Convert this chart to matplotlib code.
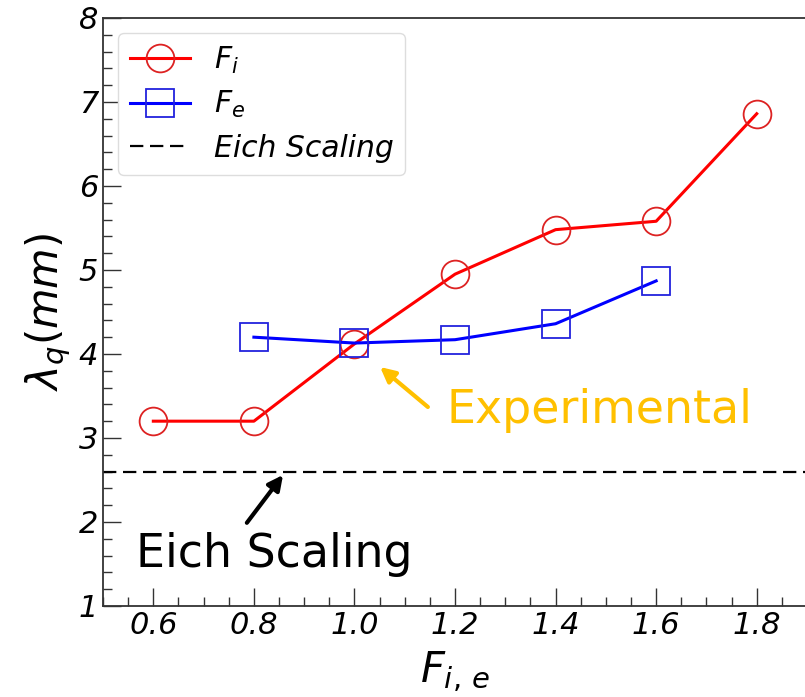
import matplotlib
matplotlib.use("Agg")
import matplotlib.pyplot as plt

x_i = [0.6, 0.8, 1.0, 1.2, 1.4, 1.6, 1.8]
lam_i = [3.2, 3.2, 4.12, 4.95, 5.48, 5.58, 6.86]
x_e = [0.8, 1.0, 1.2, 1.4, 1.6]
lam_e = [4.2, 4.13, 4.17, 4.36, 4.87]
eich = 2.6
xticks = [0.6, 0.8, 1.0, 1.2, 1.4, 1.6, 1.8]
yticks = [1, 2, 3, 4, 5, 6, 7, 8]

fig = plt.figure(figsize=(8.05, 6.97), dpi=100)
ax = fig.add_axes([0.128, 0.1306, 0.8745, 0.8436])

ax.plot(x_i, lam_i, color='red', lw=2.2, marker='o', ms=20, mfc='none',
        mec='#dd2222', mew=1.3, label='$F_i$')
ax.plot(x_e, lam_e, color='blue', lw=2.2, marker='s', ms=20, mfc='none',
        mec='#2222dd', mew=1.3, label='$F_e$')
ax.axhline(eich, color='black', lw=1.6, ls=(0, (6, 3)), label='Eich Scaling')

ax.set_xlim(0.5, 1.9)
ax.set_ylim(1, 8)
ax.set_xticks(xticks)
ax.set_xticklabels([f"{v:.1f}" for v in xticks])
ax.set_yticks(yticks)
ax.set_yticklabels([str(v) for v in yticks])
ax.xaxis.set_minor_locator(matplotlib.ticker.MultipleLocator(0.05))
ax.yaxis.set_minor_locator(matplotlib.ticker.MultipleLocator(0.2))
ax.tick_params(which='both', direction='in', top=False, right=False,
               labelsize=22, width=1.0, color='#333333')
ax.tick_params(which='major', length=13)
ax.tick_params(which='minor', length=6.5)
for lbl in ax.get_xticklabels() + ax.get_yticklabels():
    lbl.set_fontstyle('italic')
for s in ax.spines.values():
    s.set_linewidth(1.3)
    s.set_color('#333333')
ax.spines['right'].set_visible(False)

ax.set_ylabel(r'$\lambda_q(mm)$', fontsize=30, labelpad=4)
ax.set_xlabel(r'$F_{i,\,e}$', fontsize=30, labelpad=7)

leg = ax.legend(loc='upper left', prop=dict(size=21.5, style='italic'),
                handlelength=2.0, borderpad=0.4, labelspacing=0.45,
                bbox_to_anchor=(0.0, 1.0), framealpha=1)
leg.get_frame().set_edgecolor('#dddddd')

ax.text(1.184, 3.33, 'Experimental', fontsize=33, color='#FFC000',
        family='DejaVu Sans', va='center')
ax.annotate('', xy=(1.051, 3.845), xytext=(1.146, 3.369),
            arrowprops=dict(arrowstyle='-|>', color='#FFC000', lw=3,
                            mutation_scale=22, shrinkA=0, shrinkB=0))
ax.annotate('', xy=(0.858, 2.56), xytext=(0.786, 1.99),
            arrowprops=dict(arrowstyle='-|>', color='black', lw=3,
                            mutation_scale=22, shrinkA=0, shrinkB=0))
ax.text(0.566, 1.61, 'Eich Scaling', fontsize=33, color='black',
        family='DejaVu Sans', va='center')

fig.savefig('out.png', dpi=100)
